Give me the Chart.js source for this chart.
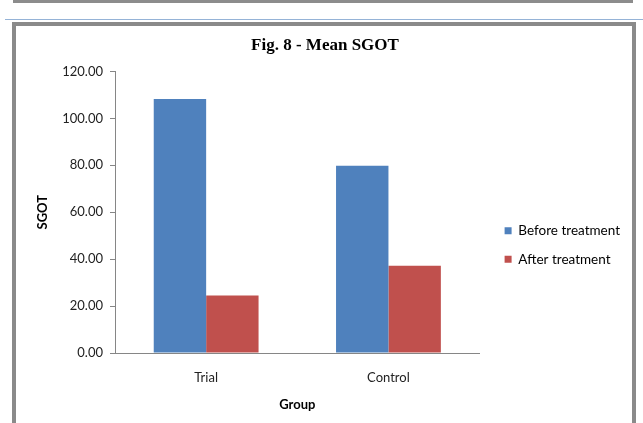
<!DOCTYPE html>
<html>
<head>
<meta charset="utf-8">
<script src="https://cdn.jsdelivr.net/npm/chart.js@4"></script>
<style>
  html, body { margin: 0; padding: 0; background: #fff; }
  body { width: 643px; height: 423px; position: relative; overflow: hidden; }
  .prev-box { position: absolute; left: 13px; top: 0; width: 620px; height: 3px; background: #8c8c8c; }
  .rule { position: absolute; left: 5px; top: 19px; width: 638px; height: 1px; background: #95b3d7; }
  .frame { position: absolute; left: 12px; top: 22px; width: 616px; height: 420px; border: 4px solid #8a8a8a; }
  #chart { position: absolute; left: 0; top: 0; }
</style>
</head>
<body>
<div class="prev-box"></div>
<div class="rule"></div>
<div class="frame"></div>
<canvas id="chart" width="643" height="423"></canvas>
<script>
// Données
const groupes = ['Trial', 'Control'];
const avantTraitement = [108.2, 79.8];
const apresTraitement = [24.5, 37.2];
const yTicks = [0, 20, 40, 60, 80, 100, 120];

// décale la légende et le titre comme dans Excel
const decalerBlocs = {
  id: 'decalerBlocs',
  afterLayout(chart) {
    const l = chart.legend;
    if (l) {
      l.left += 10; l.right += 10;
      l.top += 24; l.bottom += 24;
    }
    const t = chart.titleBlock;
    if (t) { t.left += 7; t.right += 7; }
  }
};

new Chart(document.getElementById('chart'), {
  type: 'bar',
  data: {
    labels: groupes,
    datasets: [
      { label: 'Before treatment', data: avantTraitement, backgroundColor: '#4f81bd', borderWidth: 0 },
      { label: 'After treatment', data: apresTraitement, backgroundColor: '#c0504d', borderWidth: 0 }
    ]
  },
  options: {
    responsive: false,
    animation: false,
    datasets: { bar: { categoryPercentage: 0.575, barPercentage: 1 } },
    layout: { padding: { left: 16, right: 23, top: 25, bottom: 6 } },
    plugins: {
      title: {
        display: true,
        text: 'Fig. 8 - Mean SGOT',
        color: '#000',
        font: { family: 'Liberation Serif', size: 17, weight: 'bold' },
        padding: { top: 10, bottom: 16 }
      },
      legend: {
        position: 'right',
        labels: {
          boxWidth: 7, boxHeight: 7, padding: 15,
          color: '#000',
          font: { family: 'Lato', size: 13.5 }
        }
      },
      tooltip: { enabled: false }
    },
    scales: {
      x: {
        grid: { display: false, drawTicks: false },
        border: { color: '#868686' },
        ticks: { color: '#222', padding: 17, font: { family: 'Lato', size: 13 } },
        title: { display: true, text: 'Group', color: '#000', font: { family: 'Lato', size: 13, weight: 'bold' }, padding: { top: 4, bottom: 4 } },
        afterFit(s) { s.height = 64; }
      },
      y: {
        min: yTicks[0],
        max: yTicks[yTicks.length - 1],
        grid: { drawOnChartArea: false, drawTicks: true, tickLength: 5, color: '#868686' },
        border: { color: '#868686' },
        afterBuildTicks(s) { s.ticks = yTicks.map(v => ({ value: v })); },
        ticks: {
          color: '#222', padding: 7,
          font: { family: 'Lato', size: 13 },
          callback: v => v.toFixed(2)
        },
        title: { display: true, text: 'SGOT', color: '#000', font: { family: 'Lato', size: 13, weight: 'bold' }, padding: { top: 19, bottom: 0 } },
        afterFit(s) { s.width = 99; }
      }
    }
  },
  plugins: [decalerBlocs]
});
</script>
</body>
</html>
